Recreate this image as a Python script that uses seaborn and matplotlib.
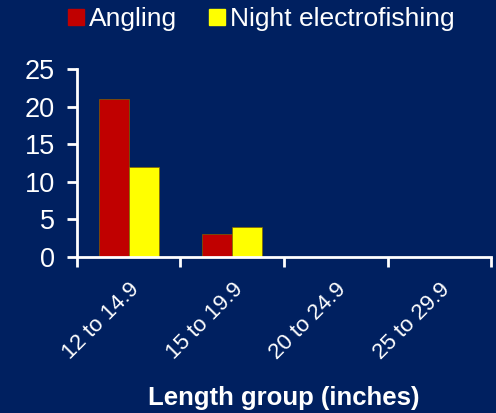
import pandas as pd
import matplotlib.pyplot as plt
import seaborn as sns
from matplotlib.ticker import FixedLocator

# Datos
grupos = ['12 to 14.9', '15 to 19.9', '20 to 24.9', '25 to 29.9']
angling = [21, 3, 0, 0]
electrofishing = [12, 4, 0, 0]
metodos = ['Angling', 'Night electrofishing']
colores = ['#C00000', '#FFFF00']

df = pd.DataFrame({
    'Grupo': grupos * 2,
    'Conteo': angling + electrofishing,
    'Metodo': [metodos[0]] * len(grupos) + [metodos[1]] * len(grupos),
})

fondo = '#002060'
sns.set_theme(style="white")
plt.rcParams['font.family'] = ['Liberation Sans', 'DejaVu Sans']

fig = plt.figure(figsize=(4.96, 4.13), dpi=100, facecolor=fondo)
ax = fig.add_axes([0.155, 0.378, 0.835, 0.455], facecolor=fondo)

sns.barplot(data=df, x='Grupo', y='Conteo', hue='Metodo', palette=colores,
            saturation=1, width=0.58, gap=0, linewidth=0.5, edgecolor='#806000',
            ax=ax, legend=False)

ax.set_xlim(-0.5, 3.5)
ax.set_ylim(0, 25)
ax.set_yticks([0, 5, 10, 15, 20, 25])

for s in ['top', 'right']:
    ax.spines[s].set_visible(False)
for s in ['left', 'bottom']:
    ax.spines[s].set_color('white')
    ax.spines[s].set_linewidth(2)

# ticks del eje x en los límites de cada grupo
ax.xaxis.set_minor_locator(FixedLocator([-0.5, 0.5, 1.5, 2.5, 3.5]))
ax.tick_params(axis='x', which='major', bottom=True, length=0, pad=16)
ax.tick_params(axis='x', which='minor', bottom=True, length=7, width=2,
               color='white', direction='out')
ax.tick_params(axis='y', left=True, length=7, width=2, color='white', direction='out',
               labelcolor='white', labelsize=19.5, pad=9)
plt.setp(ax.get_xticklabels(), rotation=45, ha='right', rotation_mode='anchor',
         color='white', fontsize=16)

ax.set_ylabel('')
ax.set_xlabel('Length group (inches)', color='white', fontsize=18.5,
              fontweight='bold', labelpad=16)

# leyenda arriba
handles = [plt.Rectangle((0, 0), 1, 1, color=c) for c in colores]
fig.legend(handles, metodos, loc='upper center', bbox_to_anchor=(0.527, 1.04),
           ncol=2, frameon=False, fontsize=19, labelcolor='white',
           handlelength=0.6, handleheight=0.6, handletextpad=0.2,
           columnspacing=1.2)

fig.savefig('out.png', dpi=100, facecolor=fondo)
